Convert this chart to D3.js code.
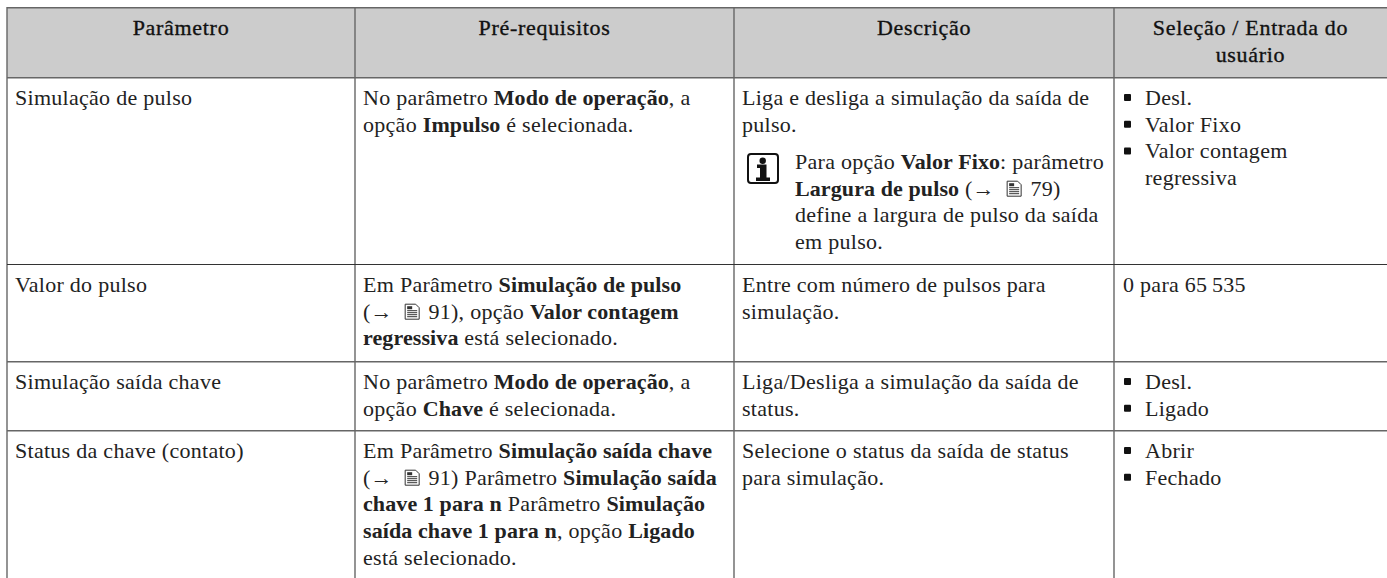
<!DOCTYPE html>
<html>
<head>
<meta charset="utf-8">
<script src="https://cdn.jsdelivr.net/npm/d3@7"></script>
<style>
html, body { margin: 0; padding: 0; background: #fff; overflow: hidden; }
text { font-family: "Liberation Serif", serif; font-size: 22px; fill: #222; letter-spacing: 0.28px; }
text.bold { font-weight: bold; letter-spacing: 0.1px; }
text.head { letter-spacing: 0.7px; fill: #111; stroke: #111; stroke-width: 0.35px; }
</style>
</head>
<body>
<div id="chart"></div>
<script>
// table content, **x** marks bold runs and {doc} the page icon
const headers = [["Parâmetro"], ["Pré-requisitos"], ["Descrição"], ["Seleção / Entrada do", "usuário"]];
const parametros = [["Simulação de pulso"], ["Valor do pulso"], ["Simulação saída chave"], ["Status da chave (contato)"]];
const prerequisitos = [
  ["No parâmetro **Modo de operação**, a", "opção **Impulso** é selecionada."],
  ["Em Parâmetro **Simulação de pulso**", "(→ {doc} 91), opção **Valor contagem**", "**regressiva** está selecionado."],
  ["No parâmetro **Modo de operação**, a", "opção **Chave** é selecionada."],
  ["Em Parâmetro **Simulação saída chave**", "(→ {doc} 91) Parâmetro **Simulação saída**", "**chave 1 para n** Parâmetro **Simulação**", "**saída chave 1 para n**, opção **Ligado**", "está selecionado."]
];
const descricoes = [
  ["Liga e desliga a simulação da saída de", "pulso."],
  ["Entre com número de pulsos para", "simulação."],
  ["Liga/Desliga a simulação da saída de", "status."],
  ["Selecione o status da saída de status", "para simulação."]
];
const notaLinhas = ["Para opção **Valor Fixo**: parâmetro", "**Largura de pulso** (→ {doc} 79)", "define a largura de pulso da saída", "em pulso."];
const selecoes = [
  ["Desl.", "Valor Fixo", "Valor contagem", "regressiva"],
  ["0 para 65\u2009535"],
  ["Desl.", "Ligado"],
  ["Abrir", "Fechado"]
];
const semBullet = [false, true, false, false];
const continuacao = [[3], [], [], []]; // lines of a bullet that carry on the previous one

const width = 1387, height = 578;
const colEdges = [7, 355, 734, 1114, 1387];
const rowEdges = [7, 77, 264, 361, 430, 578];
const lineH = 26.7, padX = 8, firstBase = 28;

const svg = d3.select("#chart").append("svg")
  .attr("width", width).attr("height", height);

// header band
svg.append("rect")
  .attr("x", colEdges[0]).attr("y", rowEdges[0])
  .attr("width", colEdges[4] - colEdges[0]).attr("height", rowEdges[1] - rowEdges[0])
  .attr("fill", "#cccccc");

// draws one line of text run by run so bold parts and icons can sit inline
function drawLine(g, str, x, y) {
  let cx = x;
  str.split(/(\*\*.*?\*\*|\{doc\})/).filter(s => s !== "").forEach(part => {
    if (part === "{doc}") {
      drawDoc(g, cx + 6, y);
      cx += 24;
      return;
    }
    const bold = part.startsWith("**");
    const t = g.append("text").attr("x", cx).attr("y", y)
      .attr("class", bold ? "bold" : null)
      .attr("xml:space", "preserve").style("white-space", "pre")
      .text(bold ? part.slice(2, -2) : part);
    cx += t.node().getComputedTextLength();
  });
}

function drawDoc(g, x, y) {
  const d = g.append("g").attr("transform", `translate(${x},${y - 15})`)
    .attr("fill", "none").attr("stroke", "#333").attr("stroke-width", 1);
  d.append("path").attr("d", "M0.5 0.5H11L14.5 4V15.5H0.5Z");
  d.append("rect").attr("x", 2.5).attr("y", 2.5).attr("width", 5).attr("height", 3).attr("fill", "#333").attr("stroke", "none");
  d3.range(4).forEach(i => d.append("line")
    .attr("x1", 2.5).attr("x2", 12.5).attr("y1", 7 + i * 2).attr("y2", 7 + i * 2));
}

function drawInfo(g, x, y) {
  const i = g.append("g").attr("transform", `translate(${x},${y})`);
  i.append("rect").attr("x", 1).attr("y", 1).attr("width", 30).attr("height", 29).attr("rx", 3)
    .attr("fill", "none").attr("stroke", "#111").attr("stroke-width", 2);
  i.append("circle").attr("cx", 15.7).attr("cy", 7.7).attr("r", 3.2).attr("fill", "#111");
  i.append("path").attr("d", "M10 11.5H19.5V24.5H23V28H9V24.5H13V15H10Z").attr("fill", "#111");
}

const cells = svg.append("g");

// header text, centred per column
headers.forEach((lines, c) => {
  const cx = (colEdges[c] + colEdges[c + 1]) / 2;
  lines.forEach((s, l) => {
    cells.append("text").attr("class", "head").attr("x", cx).attr("y", rowEdges[0] + firstBase + l * lineH)
      .attr("text-anchor", "middle").text(s);
  });
});

parametros.forEach((lines, r) => {
  const top = rowEdges[r + 1];
  lines.forEach((s, l) => drawLine(cells, s, colEdges[0] + padX, top + firstBase + l * lineH));
  prerequisitos[r].forEach((s, l) => drawLine(cells, s, colEdges[1] + padX, top + firstBase + l * lineH));
  descricoes[r].forEach((s, l) => drawLine(cells, s, colEdges[2] + padX, top + firstBase + l * lineH));
  selecoes[r].forEach((s, l) => {
    const y = top + firstBase + l * lineH;
    if (semBullet[r]) { drawLine(cells, s, colEdges[3] + padX + 1, y); return; }
    if (!continuacao[r].includes(l)) {
      cells.append("rect").attr("x", colEdges[3] + 10).attr("y", y - 11)
        .attr("width", 7).attr("height", 7).attr("rx", 1).attr("fill", "#111");
    }
    drawLine(cells, s, colEdges[3] + 31, y);
  });
});

// note inside the first description cell
drawInfo(cells, 747, 153);
notaLinhas.forEach((s, l) => drawLine(cells, s, 795, 169 + l * lineH));

// grid lines
const grid = svg.append("g");
colEdges.slice(0, 4).forEach(x => grid.append("line")
  .attr("x1", x).attr("x2", x).attr("y1", rowEdges[0]).attr("y2", height)
  .attr("stroke", "#666").attr("stroke-width", 1.4));
rowEdges.slice(0, 5).forEach((y, i) => grid.append("line")
  .attr("x1", colEdges[0]).attr("x2", width).attr("y1", i == 2 ? y + 0.5 : y + 0.7).attr("y2", i == 2 ? y + 0.5 : y + 0.7)
  .attr("stroke", i == 2 ? "#333" : "#666").attr("stroke-width", i == 2 ? 1 : 1.5));
</script>
</body>
</html>
